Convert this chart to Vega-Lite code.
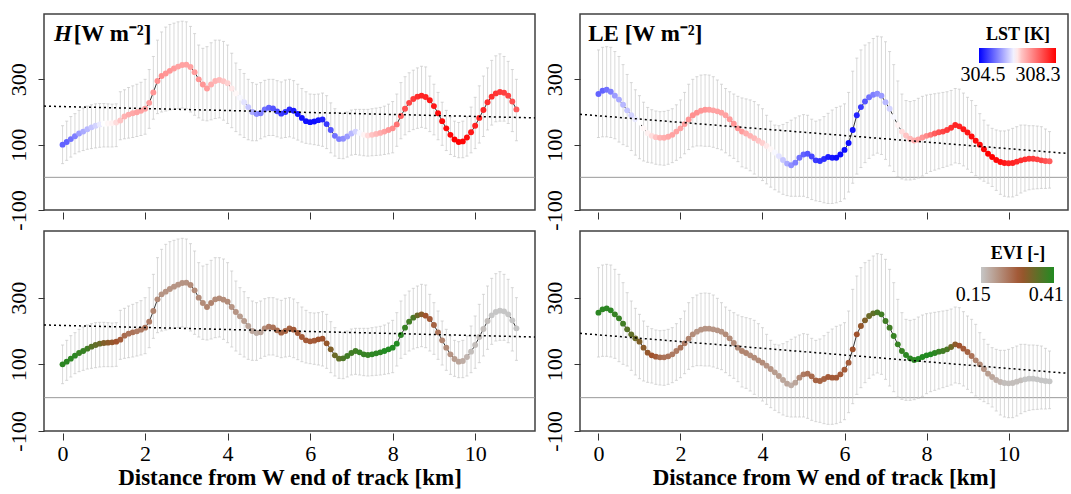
{
"$schema": "https://vega.github.io/schema/vega-lite/v6.json",
"padding": {"left": 6, "top": 13, "right": 0, "bottom": 0},
"background": "white",
"datasets": {
"one": [{}],
"trendH": [{"d": -0.45, "v": 218}, {"d": 11.45, "v": 182}],
"trendLE": [{"d": -0.45, "v": 193}, {"d": 11.45, "v": 73}],
"track": [
{"d":0.0,"H":100,"Hlo":42,"Hhi":158,"LE":255,"LElo":122,"LEhi":390,"LST":305.2,"EVI":0.40},
{"d":0.1,"H":108,"Hlo":52,"Hhi":172,"LE":265,"LElo":124,"LEhi":398,"LST":305.2,"EVI":0.40},
{"d":0.2,"H":117,"Hlo":62,"Hhi":186,"LE":268,"LElo":124,"LEhi":400,"LST":305.3,"EVI":0.40},
{"d":0.3,"H":126,"Hlo":72,"Hhi":195,"LE":262,"LElo":122,"LEhi":398,"LST":305.4,"EVI":0.40},
{"d":0.4,"H":134,"Hlo":78,"Hhi":205,"LE":250,"LElo":118,"LEhi":385,"LST":305.6,"EVI":0.39},
{"d":0.5,"H":140,"Hlo":82,"Hhi":212,"LE":238,"LElo":108,"LEhi":370,"LST":305.7,"EVI":0.39},
{"d":0.6,"H":147,"Hlo":86,"Hhi":218,"LE":222,"LElo":100,"LEhi":345,"LST":305.8,"EVI":0.38},
{"d":0.7,"H":153,"Hlo":88,"Hhi":222,"LE":205,"LElo":95,"LEhi":315,"LST":305.9,"EVI":0.36},
{"d":0.8,"H":158,"Hlo":90,"Hhi":225,"LE":190,"LElo":82,"LEhi":290,"LST":306.0,"EVI":0.35},
{"d":0.9,"H":162,"Hlo":92,"Hhi":226,"LE":178,"LElo":68,"LEhi":268,"LST":306.15,"EVI":0.34},
{"d":1.0,"H":164,"Hlo":93,"Hhi":226,"LE":168,"LElo":57,"LEhi":250,"LST":306.3,"EVI":0.32},
{"d":1.1,"H":165,"Hlo":93,"Hhi":225,"LE":150,"LElo":50,"LEhi":230,"LST":306.33,"EVI":0.31},
{"d":1.2,"H":166,"Hlo":93,"Hhi":224,"LE":135,"LElo":46,"LEhi":214,"LST":306.36,"EVI":0.30},
{"d":1.3,"H":168,"Hlo":94,"Hhi":225,"LE":127,"LElo":44,"LEhi":207,"LST":306.45,"EVI":0.29},
{"d":1.4,"H":174,"Hlo":115,"Hhi":262,"LE":123,"LElo":40,"LEhi":203,"LST":306.6,"EVI":0.28},
{"d":1.5,"H":186,"Hlo":118,"Hhi":268,"LE":121,"LElo":38,"LEhi":201,"LST":306.75,"EVI":0.26},
{"d":1.6,"H":192,"Hlo":120,"Hhi":275,"LE":121,"LElo":37,"LEhi":202,"LST":306.8,"EVI":0.25},
{"d":1.7,"H":196,"Hlo":122,"Hhi":280,"LE":124,"LElo":40,"LEhi":205,"LST":306.85,"EVI":0.25},
{"d":1.8,"H":199,"Hlo":125,"Hhi":285,"LE":130,"LElo":45,"LEhi":210,"LST":306.9,"EVI":0.24},
{"d":1.9,"H":204,"Hlo":128,"Hhi":291,"LE":140,"LElo":52,"LEhi":222,"LST":306.9,"EVI":0.24},
{"d":2.0,"H":210,"Hlo":132,"Hhi":300,"LE":150,"LElo":60,"LEhi":237,"LST":306.9,"EVI":0.25},
{"d":2.1,"H":228,"Hlo":150,"Hhi":330,"LE":163,"LElo":72,"LEhi":260,"LST":306.95,"EVI":0.24},
{"d":2.2,"H":260,"Hlo":178,"Hhi":370,"LE":177,"LElo":85,"LEhi":285,"LST":307.0,"EVI":0.23},
{"d":2.3,"H":295,"Hlo":195,"Hhi":420,"LE":190,"LElo":93,"LEhi":300,"LST":307.05,"EVI":0.22},
{"d":2.4,"H":310,"Hlo":200,"Hhi":445,"LE":198,"LElo":96,"LEhi":308,"LST":307.05,"EVI":0.21},
{"d":2.5,"H":318,"Hlo":203,"Hhi":460,"LE":204,"LElo":96,"LEhi":313,"LST":307.0,"EVI":0.21},
{"d":2.6,"H":326,"Hlo":206,"Hhi":468,"LE":207,"LElo":95,"LEhi":314,"LST":307.0,"EVI":0.21},
{"d":2.7,"H":333,"Hlo":208,"Hhi":472,"LE":207,"LElo":95,"LEhi":313,"LST":306.95,"EVI":0.21},
{"d":2.8,"H":339,"Hlo":210,"Hhi":476,"LE":205,"LElo":92,"LEhi":308,"LST":306.9,"EVI":0.21},
{"d":2.9,"H":344,"Hlo":212,"Hhi":478,"LE":202,"LElo":88,"LEhi":298,"LST":306.9,"EVI":0.21},
{"d":3.0,"H":345,"Hlo":210,"Hhi":476,"LE":198,"LElo":84,"LEhi":285,"LST":306.9,"EVI":0.21},
{"d":3.1,"H":338,"Hlo":200,"Hhi":462,"LE":190,"LElo":75,"LEhi":272,"LST":306.9,"EVI":0.22},
{"d":3.2,"H":322,"Hlo":190,"Hhi":440,"LE":178,"LElo":66,"LEhi":262,"LST":306.95,"EVI":0.22},
{"d":3.3,"H":300,"Hlo":182,"Hhi":405,"LE":164,"LElo":58,"LEhi":255,"LST":307.0,"EVI":0.22},
{"d":3.4,"H":284,"Hlo":175,"Hhi":395,"LE":150,"LElo":48,"LEhi":248,"LST":307.0,"EVI":0.22},
{"d":3.5,"H":272,"Hlo":173,"Hhi":400,"LE":140,"LElo":32,"LEhi":243,"LST":306.95,"EVI":0.23},
{"d":3.6,"H":284,"Hlo":176,"Hhi":412,"LE":134,"LElo":28,"LEhi":240,"LST":306.8,"EVI":0.23},
{"d":3.7,"H":295,"Hlo":180,"Hhi":420,"LE":127,"LElo":20,"LEhi":237,"LST":306.75,"EVI":0.22},
{"d":3.8,"H":298,"Hlo":182,"Hhi":420,"LE":120,"LElo":10,"LEhi":232,"LST":306.7,"EVI":0.22},
{"d":3.9,"H":294,"Hlo":175,"Hhi":416,"LE":112,"LElo":0,"LEhi":222,"LST":306.6,"EVI":0.22},
{"d":4.0,"H":288,"Hlo":165,"Hhi":405,"LE":105,"LElo":-10,"LEhi":210,"LST":306.5,"EVI":0.22},
{"d":4.1,"H":272,"Hlo":152,"Hhi":380,"LE":96,"LElo":-20,"LEhi":190,"LST":306.4,"EVI":0.21},
{"d":4.2,"H":257,"Hlo":140,"Hhi":350,"LE":86,"LElo":-30,"LEhi":172,"LST":306.33,"EVI":0.21},
{"d":4.3,"H":244,"Hlo":130,"Hhi":330,"LE":76,"LElo":-38,"LEhi":160,"LST":306.25,"EVI":0.20},
{"d":4.4,"H":230,"Hlo":122,"Hhi":318,"LE":65,"LElo":-45,"LEhi":158,"LST":306.1,"EVI":0.20},
{"d":4.5,"H":215,"Hlo":115,"Hhi":300,"LE":53,"LElo":-52,"LEhi":162,"LST":305.9,"EVI":0.19},
{"d":4.6,"H":200,"Hlo":112,"Hhi":290,"LE":42,"LElo":-56,"LEhi":168,"LST":305.7,"EVI":0.19},
{"d":4.7,"H":194,"Hlo":112,"Hhi":285,"LE":37,"LElo":-58,"LEhi":175,"LST":305.5,"EVI":0.18},
{"d":4.8,"H":196,"Hlo":118,"Hhi":290,"LE":45,"LElo":-58,"LEhi":182,"LST":305.4,"EVI":0.19},
{"d":4.9,"H":208,"Hlo":124,"Hhi":297,"LE":60,"LElo":-58,"LEhi":188,"LST":305.3,"EVI":0.22},
{"d":5.0,"H":213,"Hlo":128,"Hhi":300,"LE":70,"LElo":-58,"LEhi":192,"LST":305.2,"EVI":0.24},
{"d":5.1,"H":211,"Hlo":128,"Hhi":300,"LE":72,"LElo":-62,"LEhi":190,"LST":305.1,"EVI":0.25},
{"d":5.2,"H":202,"Hlo":124,"Hhi":296,"LE":64,"LElo":-68,"LEhi":178,"LST":305.0,"EVI":0.26},
{"d":5.3,"H":195,"Hlo":120,"Hhi":292,"LE":52,"LElo":-72,"LEhi":172,"LST":304.9,"EVI":0.27},
{"d":5.4,"H":200,"Hlo":122,"Hhi":298,"LE":50,"LElo":-74,"LEhi":176,"LST":304.85,"EVI":0.27},
{"d":5.5,"H":208,"Hlo":124,"Hhi":300,"LE":56,"LElo":-78,"LEhi":186,"LST":304.8,"EVI":0.27},
{"d":5.6,"H":204,"Hlo":120,"Hhi":296,"LE":62,"LElo":-80,"LEhi":196,"LST":304.7,"EVI":0.28},
{"d":5.7,"H":194,"Hlo":114,"Hhi":285,"LE":60,"LElo":-80,"LEhi":206,"LST":304.65,"EVI":0.28},
{"d":5.8,"H":182,"Hlo":108,"Hhi":272,"LE":60,"LElo":-78,"LEhi":214,"LST":304.6,"EVI":0.28},
{"d":5.9,"H":172,"Hlo":104,"Hhi":262,"LE":70,"LElo":-74,"LEhi":218,"LST":304.6,"EVI":0.28},
{"d":6.0,"H":169,"Hlo":102,"Hhi":255,"LE":84,"LElo":-66,"LEhi":225,"LST":304.6,"EVI":0.28},
{"d":6.1,"H":171,"Hlo":100,"Hhi":254,"LE":105,"LElo":-45,"LEhi":260,"LST":304.6,"EVI":0.28},
{"d":6.2,"H":175,"Hlo":98,"Hhi":255,"LE":145,"LElo":-18,"LEhi":325,"LST":304.65,"EVI":0.29},
{"d":6.3,"H":177,"Hlo":95,"Hhi":258,"LE":190,"LElo":10,"LEhi":365,"LST":304.75,"EVI":0.29},
{"d":6.4,"H":163,"Hlo":88,"Hhi":250,"LE":215,"LElo":30,"LEhi":390,"LST":304.9,"EVI":0.30},
{"d":6.5,"H":145,"Hlo":75,"Hhi":228,"LE":232,"LElo":45,"LEhi":405,"LST":305.1,"EVI":0.32},
{"d":6.6,"H":127,"Hlo":65,"Hhi":210,"LE":245,"LElo":58,"LEhi":412,"LST":305.3,"EVI":0.34},
{"d":6.7,"H":117,"Hlo":58,"Hhi":198,"LE":253,"LElo":68,"LEhi":425,"LST":305.4,"EVI":0.35},
{"d":6.8,"H":118,"Hlo":57,"Hhi":195,"LE":256,"LElo":74,"LEhi":432,"LST":305.5,"EVI":0.37},
{"d":6.9,"H":125,"Hlo":62,"Hhi":200,"LE":250,"LElo":70,"LEhi":430,"LST":305.6,"EVI":0.38},
{"d":7.0,"H":134,"Hlo":68,"Hhi":206,"LE":230,"LElo":55,"LEhi":415,"LST":305.8,"EVI":0.38},
{"d":7.1,"H":140,"Hlo":70,"Hhi":208,"LE":210,"LElo":35,"LEhi":385,"LST":306.0,"EVI":0.38},
{"d":7.2,"H":136,"Hlo":68,"Hhi":208,"LE":185,"LElo":18,"LEhi":345,"LST":306.25,"EVI":0.39},
{"d":7.3,"H":130,"Hlo":66,"Hhi":208,"LE":160,"LElo":2,"LEhi":295,"LST":306.35,"EVI":0.39},
{"d":7.4,"H":128,"Hlo":65,"Hhi":208,"LE":140,"LElo":-5,"LEhi":255,"LST":306.45,"EVI":0.39},
{"d":7.5,"H":130,"Hlo":66,"Hhi":210,"LE":128,"LElo":-8,"LEhi":235,"LST":306.6,"EVI":0.40},
{"d":7.6,"H":133,"Hlo":67,"Hhi":212,"LE":118,"LElo":-8,"LEhi":232,"LST":306.7,"EVI":0.40},
{"d":7.7,"H":136,"Hlo":68,"Hhi":214,"LE":113,"LElo":-6,"LEhi":235,"LST":306.8,"EVI":0.40},
{"d":7.8,"H":140,"Hlo":70,"Hhi":218,"LE":116,"LElo":-2,"LEhi":242,"LST":306.9,"EVI":0.41},
{"d":7.9,"H":145,"Hlo":72,"Hhi":224,"LE":122,"LElo":4,"LEhi":248,"LST":307.0,"EVI":0.41},
{"d":8.0,"H":150,"Hlo":75,"Hhi":232,"LE":127,"LElo":12,"LEhi":252,"LST":307.1,"EVI":0.41},
{"d":8.1,"H":162,"Hlo":95,"Hhi":255,"LE":130,"LElo":18,"LEhi":254,"LST":307.3,"EVI":0.41},
{"d":8.2,"H":188,"Hlo":118,"Hhi":290,"LE":134,"LElo":22,"LEhi":256,"LST":307.5,"EVI":0.40},
{"d":8.3,"H":210,"Hlo":130,"Hhi":308,"LE":138,"LElo":26,"LEhi":258,"LST":307.6,"EVI":0.39},
{"d":8.4,"H":228,"Hlo":140,"Hhi":320,"LE":140,"LElo":30,"LEhi":260,"LST":307.7,"EVI":0.38},
{"d":8.5,"H":240,"Hlo":146,"Hhi":328,"LE":145,"LElo":34,"LEhi":262,"LST":307.8,"EVI":0.37},
{"d":8.6,"H":247,"Hlo":150,"Hhi":335,"LE":152,"LElo":38,"LEhi":266,"LST":307.9,"EVI":0.34},
{"d":8.7,"H":250,"Hlo":153,"Hhi":340,"LE":160,"LElo":44,"LEhi":272,"LST":308.0,"EVI":0.31},
{"d":8.8,"H":246,"Hlo":150,"Hhi":338,"LE":156,"LElo":42,"LEhi":270,"LST":308.0,"EVI":0.29},
{"d":8.9,"H":236,"Hlo":140,"Hhi":310,"LE":147,"LElo":35,"LEhi":258,"LST":308.1,"EVI":0.28},
{"d":9.0,"H":218,"Hlo":130,"Hhi":285,"LE":137,"LElo":25,"LEhi":245,"LST":308.1,"EVI":0.27},
{"d":9.1,"H":196,"Hlo":115,"Hhi":260,"LE":125,"LElo":15,"LEhi":235,"LST":308.2,"EVI":0.25},
{"d":9.2,"H":172,"Hlo":98,"Hhi":230,"LE":112,"LElo":5,"LEhi":220,"LST":308.2,"EVI":0.23},
{"d":9.3,"H":150,"Hlo":82,"Hhi":205,"LE":100,"LElo":-5,"LEhi":195,"LST":308.2,"EVI":0.22},
{"d":9.4,"H":130,"Hlo":70,"Hhi":185,"LE":86,"LElo":-12,"LEhi":175,"LST":308.25,"EVI":0.21},
{"d":9.5,"H":116,"Hlo":64,"Hhi":172,"LE":72,"LElo":-18,"LEhi":160,"LST":308.3,"EVI":0.20},
{"d":9.6,"H":108,"Hlo":60,"Hhi":168,"LE":62,"LElo":-28,"LEhi":150,"LST":308.3,"EVI":0.19},
{"d":9.7,"H":110,"Hlo":60,"Hhi":172,"LE":53,"LElo":-40,"LEhi":145,"LST":308.25,"EVI":0.18},
{"d":9.8,"H":122,"Hlo":65,"Hhi":185,"LE":47,"LElo":-52,"LEhi":142,"LST":308.2,"EVI":0.17},
{"d":9.9,"H":138,"Hlo":75,"Hhi":215,"LE":44,"LElo":-58,"LEhi":142,"LST":308.1,"EVI":0.16},
{"d":10.0,"H":158,"Hlo":88,"Hhi":245,"LE":43,"LElo":-60,"LEhi":145,"LST":308.0,"EVI":0.16},
{"d":10.1,"H":182,"Hlo":105,"Hhi":280,"LE":44,"LElo":-60,"LEhi":150,"LST":308.0,"EVI":0.16},
{"d":10.2,"H":206,"Hlo":125,"Hhi":310,"LE":48,"LElo":-55,"LEhi":155,"LST":307.95,"EVI":0.16},
{"d":10.3,"H":230,"Hlo":145,"Hhi":335,"LE":52,"LElo":-48,"LEhi":160,"LST":307.9,"EVI":0.16},
{"d":10.4,"H":247,"Hlo":160,"Hhi":358,"LE":55,"LElo":-42,"LEhi":160,"LST":307.9,"EVI":0.15},
{"d":10.5,"H":257,"Hlo":170,"Hhi":372,"LE":57,"LElo":-38,"LEhi":158,"LST":307.85,"EVI":0.15},
{"d":10.6,"H":261,"Hlo":172,"Hhi":378,"LE":57,"LElo":-36,"LEhi":158,"LST":307.8,"EVI":0.15},
{"d":10.7,"H":259,"Hlo":172,"Hhi":370,"LE":55,"LElo":-35,"LEhi":157,"LST":307.75,"EVI":0.15},
{"d":10.8,"H":250,"Hlo":165,"Hhi":355,"LE":52,"LElo":-34,"LEhi":155,"LST":307.7,"EVI":0.15},
{"d":10.9,"H":232,"Hlo":140,"Hhi":330,"LE":50,"LElo":-34,"LEhi":148,"LST":307.6,"EVI":0.15},
{"d":11.0,"H":208,"Hlo":112,"Hhi":300,"LE":49,"LElo":-33,"LEhi":140,"LST":307.5,"EVI":0.15}
]
},
"spacing": -1,
"resolve": {"scale": {"color": "independent"}, "legend": {"color": "independent"}},
"vconcat": [
{
"spacing": 3,
"resolve": {"scale": {"color": "independent"}, "legend": {"color": "independent"}},
"hconcat": [
{
"width": 491, "height": 196,
"layer": [
{"data": {"name": "one"}, "mark": {"type": "rule", "color": "#9a9a9a", "strokeWidth": 1}, "encoding": {"y": {"datum": 0, "type": "quantitative", "scale": {"domain": [-100, 500], "nice": false, "zero": false}}}},
{"data": {"name": "track"}, "mark": {"type": "errorbar", "rule": {"color": "#c8c8c8", "strokeWidth": 0.7}, "ticks": {"size": 3, "color": "#c8c8c8", "strokeWidth": 0.7}},
 "encoding": {
  "x": {"field": "d", "type": "quantitative", "scale": {"domain": [-0.45, 11.45], "nice": false, "zero": false}, "axis": {"values": [0, 2, 4, 6, 8, 10], "labels": false, "title": null, "tickSize": 7, "offset": 2}},
  "y": {"field": "Hhi", "type": "quantitative", "scale": {"domain": [-100, 500], "nice": false, "zero": false}, "axis": {"values": [-100, 0, 100, 200, 300, 400], "title": null, "labelAngle": -90, "tickSize": 6, "labelPadding": 8, "labelExpr": "datum.value == -100 ? '-100' : (datum.value == 100 || datum.value == 300) ? datum.label : ''"}},
  "y2": {"field": "Hlo"}}},
{"data": {"name": "track"}, "mark": {"type": "line", "color": "black", "strokeWidth": 0.8}, "encoding": {"x": {"field": "d", "type": "quantitative"}, "y": {"field": "H", "type": "quantitative"}}},
{"data": {"name": "track"}, "mark": {"type": "circle", "size": 35, "opacity": 1},
 "encoding": {"x": {"field": "d", "type": "quantitative"}, "y": {"field": "H", "type": "quantitative"},
  "color": {"field": "LST", "type": "quantitative", "scale": {"domain": [304.5, 306.3, 306.5, 308.3], "range": ["#0000ff", "#ffffff", "#ffd0d0", "#ff0000"], "interpolate": "rgb"}, "legend": null}}},
{"data": {"name": "trendH"}, "mark": {"type": "line", "color": "black", "strokeDash": [2, 3], "strokeWidth": 1.5}, "encoding": {"x": {"field": "d", "type": "quantitative"}, "y": {"field": "v", "type": "quantitative"}}},
{"data": {"name": "one"}, "mark": {"type": "text", "text": "H", "font": "Liberation Serif", "fontSize": 23, "fontStyle": "italic", "fontWeight": "bold", "align": "left", "baseline": "middle", "color": "black"}, "encoding": {"x": {"datum": -0.21}, "y": {"datum": 440}}},
{"data": {"name": "one"}, "mark": {"type": "text", "text": "[W m⁻²]", "font": "Liberation Serif", "fontSize": 23, "fontWeight": "bold", "align": "left", "baseline": "middle", "color": "black"}, "encoding": {"x": {"datum": 0.27}, "y": {"datum": 440}}}
]
},
{
"width": 488, "height": 196,
"layer": [
{"data": {"name": "one"}, "mark": {"type": "rule", "color": "#9a9a9a", "strokeWidth": 1}, "encoding": {"y": {"datum": 0, "type": "quantitative", "scale": {"domain": [-100, 500], "nice": false, "zero": false}}}},
{"data": {"name": "track"}, "mark": {"type": "errorbar", "rule": {"color": "#c8c8c8", "strokeWidth": 0.7}, "ticks": {"size": 3, "color": "#c8c8c8", "strokeWidth": 0.7}},
 "encoding": {
  "x": {"field": "d", "type": "quantitative", "scale": {"domain": [-0.45, 11.45], "nice": false, "zero": false}, "axis": {"values": [0, 2, 4, 6, 8, 10], "labels": false, "title": null, "tickSize": 7, "offset": 2}},
  "y": {"field": "LEhi", "type": "quantitative", "scale": {"domain": [-100, 500], "nice": false, "zero": false}, "axis": {"values": [-100, 0, 100, 200, 300, 400], "title": null, "labelAngle": -90, "tickSize": 6, "labelPadding": 8, "labelExpr": "datum.value == -100 ? '-100' : (datum.value == 100 || datum.value == 300) ? datum.label : ''"}},
  "y2": {"field": "LElo"}}},
{"data": {"name": "track"}, "mark": {"type": "line", "color": "black", "strokeWidth": 0.8}, "encoding": {"x": {"field": "d", "type": "quantitative"}, "y": {"field": "LE", "type": "quantitative"}}},
{"data": {"name": "track"}, "mark": {"type": "circle", "size": 35, "opacity": 1},
 "encoding": {"x": {"field": "d", "type": "quantitative"}, "y": {"field": "LE", "type": "quantitative"},
  "color": {"field": "LST", "type": "quantitative", "scale": {"domain": [304.5, 306.3, 306.5, 308.3], "range": ["#0000ff", "#ffffff", "#ffd0d0", "#ff0000"], "interpolate": "rgb"},
   "legend": {"title": "LST [K]", "orient": "top-right", "direction": "horizontal", "gradientLength": 77, "gradientThickness": 15, "values": [304.5, 308.3], "labelOpacity": 0, "labelFontSize": 1, "labelOverlap": false, "titleFont": "Liberation Serif", "titleFontSize": 18, "titleFontWeight": "bold", "titleColor": "black", "titleAnchor": "middle", "titlePadding": 4, "offset": 12, "padding": 0, "gradientStrokeWidth": 0}}}},
{"data": {"name": "trendLE"}, "mark": {"type": "line", "color": "black", "strokeDash": [2, 3], "strokeWidth": 1.5}, "encoding": {"x": {"field": "d", "type": "quantitative"}, "y": {"field": "v", "type": "quantitative"}}},
{"data": {"name": "one"}, "mark": {"type": "text", "text": "LE [W m⁻²]", "font": "Liberation Serif", "fontSize": 23, "fontWeight": "bold", "align": "left", "baseline": "middle", "color": "black"}, "encoding": {"x": {"datum": -0.25}, "y": {"datum": 439}}},
{"data": {"name": "one"}, "mark": {"type": "text", "text": "304.5", "font": "Liberation Serif", "fontSize": 20, "align": "center", "baseline": "middle", "color": "black"}, "encoding": {"x": {"datum": 9.38}, "y": {"datum": 313}}},
{"data": {"name": "one"}, "mark": {"type": "text", "text": "308.3", "font": "Liberation Serif", "fontSize": 20, "align": "center", "baseline": "middle", "color": "black"}, "encoding": {"x": {"datum": 10.72}, "y": {"datum": 313}}}
]
}
]
},
{
"spacing": 3,
"resolve": {"scale": {"color": "independent"}, "legend": {"color": "independent"}},
"hconcat": [
{
"width": 491, "height": 200,
"layer": [
{"data": {"name": "one"}, "mark": {"type": "rule", "color": "#9a9a9a", "strokeWidth": 1}, "encoding": {"y": {"datum": 0, "type": "quantitative", "scale": {"domain": [-100, 500], "nice": false, "zero": false}}}},
{"data": {"name": "track"}, "mark": {"type": "errorbar", "rule": {"color": "#c8c8c8", "strokeWidth": 0.7}, "ticks": {"size": 3, "color": "#c8c8c8", "strokeWidth": 0.7}},
 "encoding": {
  "x": {"field": "d", "type": "quantitative", "scale": {"domain": [-0.45, 11.45], "nice": false, "zero": false}, "axis": {"values": [0, 2, 4, 6, 8, 10], "title": "Distance from W end of track [km]", "tickSize": 7, "offset": 2, "labelFontSize": 22, "labelPadding": 3, "titlePadding": 2}},
  "y": {"field": "Hhi", "type": "quantitative", "scale": {"domain": [-100, 500], "nice": false, "zero": false}, "axis": {"values": [-100, 0, 100, 200, 300, 400], "title": null, "labelAngle": -90, "tickSize": 6, "labelPadding": 8, "labelExpr": "datum.value == -100 ? '-100' : (datum.value == 100 || datum.value == 300) ? datum.label : ''"}},
  "y2": {"field": "Hlo"}}},
{"data": {"name": "track"}, "mark": {"type": "line", "color": "black", "strokeWidth": 0.8}, "encoding": {"x": {"field": "d", "type": "quantitative"}, "y": {"field": "H", "type": "quantitative"}}},
{"data": {"name": "track"}, "mark": {"type": "circle", "size": 35, "opacity": 1},
 "encoding": {"x": {"field": "d", "type": "quantitative"}, "y": {"field": "H", "type": "quantitative"},
  "color": {"field": "EVI", "type": "quantitative", "scale": {"domain": [0.15, 0.29, 0.41], "range": ["#c6c6c6", "#a0522d", "#228b22"], "interpolate": "rgb"}, "legend": null}}},
{"data": {"name": "trendH"}, "mark": {"type": "line", "color": "black", "strokeDash": [2, 3], "strokeWidth": 1.5}, "encoding": {"x": {"field": "d", "type": "quantitative"}, "y": {"field": "v", "type": "quantitative"}}}
]
},
{
"width": 488, "height": 200,
"layer": [
{"data": {"name": "one"}, "mark": {"type": "rule", "color": "#9a9a9a", "strokeWidth": 1}, "encoding": {"y": {"datum": 0, "type": "quantitative", "scale": {"domain": [-100, 500], "nice": false, "zero": false}}}},
{"data": {"name": "track"}, "mark": {"type": "errorbar", "rule": {"color": "#c8c8c8", "strokeWidth": 0.7}, "ticks": {"size": 3, "color": "#c8c8c8", "strokeWidth": 0.7}},
 "encoding": {
  "x": {"field": "d", "type": "quantitative", "scale": {"domain": [-0.45, 11.45], "nice": false, "zero": false}, "axis": {"values": [0, 2, 4, 6, 8, 10], "title": "Distance from W end of track [km]", "tickSize": 7, "offset": 2, "labelFontSize": 22, "labelPadding": 3, "titlePadding": 2}},
  "y": {"field": "LEhi", "type": "quantitative", "scale": {"domain": [-100, 500], "nice": false, "zero": false}, "axis": {"values": [-100, 0, 100, 200, 300, 400], "title": null, "labelAngle": -90, "tickSize": 6, "labelPadding": 8, "labelExpr": "datum.value == -100 ? '-100' : (datum.value == 100 || datum.value == 300) ? datum.label : ''"}},
  "y2": {"field": "LElo"}}},
{"data": {"name": "track"}, "mark": {"type": "line", "color": "black", "strokeWidth": 0.8}, "encoding": {"x": {"field": "d", "type": "quantitative"}, "y": {"field": "LE", "type": "quantitative"}}},
{"data": {"name": "track"}, "mark": {"type": "circle", "size": 35, "opacity": 1},
 "encoding": {"x": {"field": "d", "type": "quantitative"}, "y": {"field": "LE", "type": "quantitative"},
  "color": {"field": "EVI", "type": "quantitative", "scale": {"domain": [0.15, 0.29, 0.41], "range": ["#c6c6c6", "#a0522d", "#228b22"], "interpolate": "rgb"},
   "legend": {"title": "EVI [-]", "orient": "top-right", "direction": "horizontal", "gradientLength": 73, "gradientThickness": 16, "values": [0.15, 0.41], "labelOpacity": 0, "labelFontSize": 1, "labelOverlap": false, "titleFont": "Liberation Serif", "titleFontSize": 18, "titleFontWeight": "bold", "titleColor": "black", "titleAnchor": "middle", "titlePadding": 4, "offset": 14, "padding": 0, "gradientStrokeWidth": 0}}}},
{"data": {"name": "trendLE"}, "mark": {"type": "line", "color": "black", "strokeDash": [2, 3], "strokeWidth": 1.5}, "encoding": {"x": {"field": "d", "type": "quantitative"}, "y": {"field": "v", "type": "quantitative"}}},
{"data": {"name": "one"}, "mark": {"type": "text", "text": "0.15", "font": "Liberation Serif", "fontSize": 20, "align": "center", "baseline": "middle", "color": "black"}, "encoding": {"x": {"datum": 9.14}, "y": {"datum": 308}}},
{"data": {"name": "one"}, "mark": {"type": "text", "text": "0.41", "font": "Liberation Serif", "fontSize": 20, "align": "center", "baseline": "middle", "color": "black"}, "encoding": {"x": {"datum": 10.92}, "y": {"datum": 308}}}
]
}
]
}
],
"config": {
"font": "Liberation Serif",
"view": {"stroke": "#404040", "strokeWidth": 1.5},
"axis": {"grid": false, "domain": false, "tickColor": "#333333", "tickWidth": 1, "labelFont": "Liberation Serif", "labelFontSize": 22, "labelColor": "black", "titleFont": "Liberation Serif", "titleFontSize": 23, "titleFontWeight": "bold", "titleColor": "black"}
}
}
